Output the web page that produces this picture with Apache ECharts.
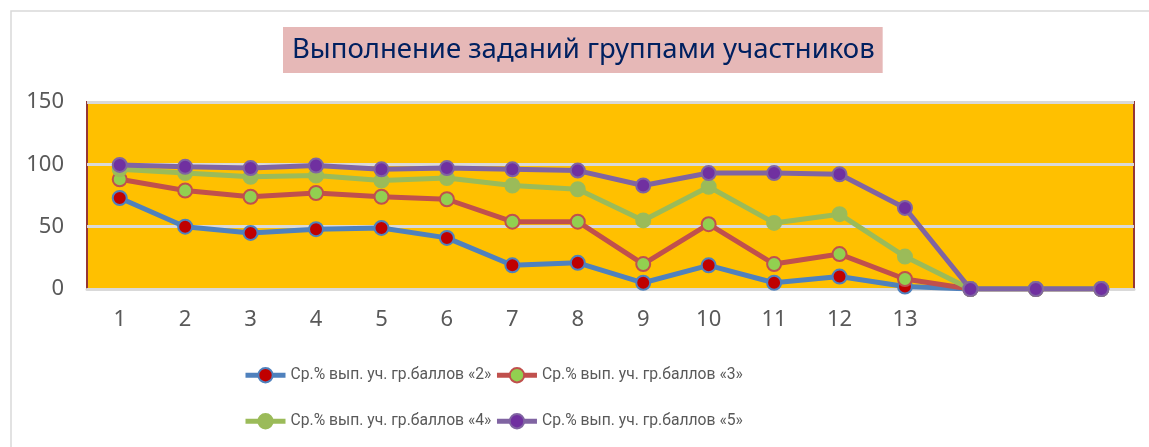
<!DOCTYPE html>
<html>
<head>
<meta charset="utf-8">
<script src="https://cdn.jsdelivr.net/npm/echarts@6/dist/echarts.min.js"></script>
<style>
  html, body { margin: 0; padding: 0; background: #fff; }
  #main { width: 1149px; height: 447px; }
</style>
</head>
<body>
<div id="main"></div>
<script>
// номера заданий (последние три без подписи)
const tasks = ['1', '2', '3', '4', '5', '6', '7', '8', '9', '10', '11', '12', '13', '', '', '']
const yTicks = [0, 50, 100, 150]

const names = [
  'Ср.% вып. уч. гр.баллов «2»',
  'Ср.% вып. уч. гр.баллов «3»',
  'Ср.% вып. уч. гр.баллов «4»',
  'Ср.% вып. уч. гр.баллов «5»'
]
const grade2 = [73, 50, 45, 48, 49, 41, 19, 21, 5, 19, 5, 10, 2, 0, 0, 0]
const grade3 = [88, 79, 74, 77, 74, 72, 54, 54, 20, 52, 20, 28, 8, 0, 0, 0]
const grade4 = [96, 93, 90, 91, 87, 89, 83, 80, 55, 82, 53, 60, 26, 0, 0, 0]
const grade5 = [99.5, 98, 97, 99, 96, 97, 96, 95, 83, 93, 93, 92, 65, 0, 0, 0]

const lineColors = ['#4F81BD', '#C0504D', '#9BBB59', '#8064A2']
const markColors = ['#C00000', '#92D050', '#9BBB59', '#7030A0']
const font = 'Noto Sans'

const mkSeries = (i, data) => ({
  name: names[i],
  type: 'line',
  data: data,
  symbol: 'circle',
  symbolSize: 14,
  lineStyle: { color: lineColors[i], width: 5 },
  itemStyle: { color: markColors[i], borderColor: lineColors[i], borderWidth: 2 },
  emphasis: { disabled: true },
  animation: false
})

const legendText = { fontFamily: 'Roboto', fontSize: 15.7, color: '#595959' }
const legendBase = {
  left: 243,
  padding: 0,
  itemWidth: 40,
  itemHeight: 18,
  itemGap: 3,
  lineStyle: { width: 5 },
  textStyle: legendText
}

let myChart = echarts.init(document.getElementById('main'))
let option = {
  graphic: [{
    type: 'rect',
    shape: { x: 11, y: 11, width: 1300, height: 600 },
    style: { fill: 'none', stroke: '#D9D9D9', lineWidth: 1.5 },
    silent: true
  }],
  title: {
    text: 'Выполнение заданий группами участников',
    left: 283,
    top: 27,
    backgroundColor: '#E6B8B7',
    padding: [9, 8, 9, 9],
    textStyle: { fontFamily: font, fontSize: 27.5, fontWeight: 'normal', color: '#002060' }
  },
  legend: [
    Object.assign({ data: [names[0], names[1]], top: 367 }, legendBase),
    Object.assign({ data: [names[2], names[3]], top: 413 }, legendBase)
  ],
  grid: {
    left: 87,
    right: 15,
    top: 102,
    height: 187,
    show: true,
    backgroundColor: '#FFC000',
    borderColor: '#953735',
    borderWidth: 2
  },
  xAxis: {
    type: 'category',
    data: tasks,
    boundaryGap: true,
    axisTick: { show: false },
    axisLine: { show: true, lineStyle: { color: '#D9D9D9', width: 3 } },
    axisLabel: { margin: 20, fontFamily: font, fontSize: 22, color: '#595959', interval: 0 }
  },
  yAxis: {
    type: 'value',
    min: yTicks[0],
    max: yTicks[yTicks.length - 1],
    interval: 50,
    axisLine: { show: false },
    axisTick: { show: false },
    axisLabel: { margin: 23, fontFamily: font, fontSize: 22, color: '#595959' },
    splitLine: { show: true, lineStyle: { color: '#D9D9D9', width: 3 } }
  },
  series: [
    mkSeries(0, grade2),
    mkSeries(1, grade3),
    mkSeries(2, grade4),
    mkSeries(3, grade5)
  ]
}
myChart.setOption(option)
</script>
</body>
</html>
